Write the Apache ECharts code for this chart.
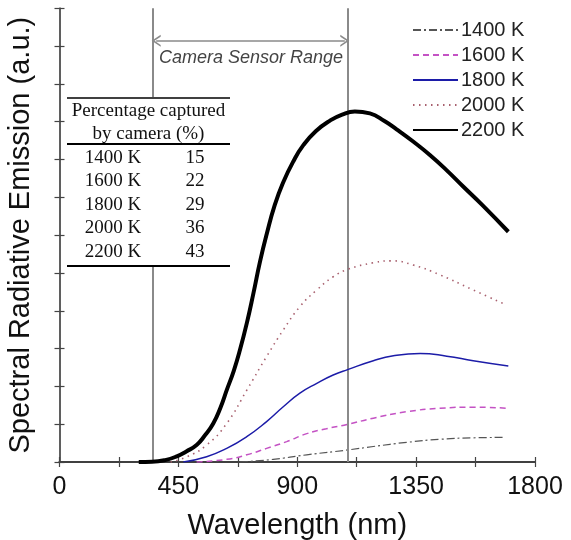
<!DOCTYPE html>
<html>
<head>
<meta charset="utf-8">
<script src="https://cdn.jsdelivr.net/npm/echarts@6/dist/echarts.min.js"></script>
<style>
html,body{margin:0;padding:0;background:#fff;}
#c{width:571px;height:540px;}
</style>
</head>
<body>
<div id="c"></div>
<script>
// ---- data ----
const xTicks = [0, 450, 900, 1350, 1800];
const sensorRange = [354, 1092];
const arrowLevel = 11.14;

const wl1400 = [683, 809, 936, 1093, 1188, 1314, 1440, 1566, 1680];
const em1400 = [0, 0.07, 0.19, 0.32, 0.41, 0.52, 0.60, 0.64, 0.65];

const wl1600 = [519, 633, 709, 784, 860, 936, 1010, 1093, 1188, 1314, 1440, 1566, 1699];
const em1600 = [0, 0.07, 0.19, 0.36, 0.54, 0.75, 0.88, 1.0, 1.16, 1.33, 1.42, 1.45, 1.42];

const wl1800 = [469, 557, 633, 709, 784, 847, 910, 974, 1036, 1093, 1188, 1264, 1365, 1466, 1566, 1699];
const em1800 = [0, 0.14, 0.36, 0.67, 1.07, 1.46, 1.82, 2.08, 2.30, 2.45, 2.68, 2.81, 2.87, 2.80, 2.68, 2.54];

const wl2000 = [420, 480, 557, 633, 709, 784, 847, 910, 974, 1036, 1093, 1188, 1257, 1339, 1440, 1566, 1693];
const em2000 = [0, 0.13, 0.45, 1.02, 1.90, 2.79, 3.49, 4.11, 4.55, 4.90, 5.10, 5.27, 5.32, 5.21, 4.95, 4.55, 4.15];

const wl2200 = [300, 350, 400, 444, 480, 519, 550, 582, 610, 633, 660, 683, 710, 734, 759, 784, 815, 847, 885, 923, 970, 1024, 1070, 1118, 1175, 1230, 1276, 1340, 1402, 1465, 1529, 1600, 1699];
const em2200 = [0, 0.005, 0.05, 0.15, 0.28, 0.45, 0.7, 1.02, 1.45, 1.9, 2.42, 2.96, 3.7, 4.46, 5.3, 6.02, 6.8, 7.4, 7.95, 8.38, 8.75, 9.03, 9.19, 9.27, 9.22, 9.02, 8.8, 8.47, 8.12, 7.72, 7.28, 6.8, 6.09];

const tableHeader = ['Percentage captured', 'by camera (%)'];
const tableTemps = ['1400 K', '1600 K', '1800 K', '2000 K', '2200 K'];
const tablePct = ['15', '22', '29', '36', '43'];

// ---- build ----
function pairs(w, v) { return w.map((x, i) => [x, v[i]]); }

const chart = echarts.init(document.getElementById('c'), null, {renderer: 'canvas'});

const axisCommon = {
  axisTick: {show: true, inside: true, length: 5, lineStyle: {color: '#444', width: 1.2}},
  splitLine: {show: false}
};

function line(name, w, v, color, width, type, z) {
  return {
    name, type: 'line', data: pairs(w, v), symbol: 'none', showSymbol: false,
    smooth: 0.5, z: z,
    lineStyle: {color, width, type}, itemStyle: {color}
  };
}

const series = [
  line('1400 K', wl1400, em1400, '#555555', 1.2, [8, 3, 2, 3], 3),
  line('1600 K', wl1600, em1600, '#c452c4', 1.5, [6, 4], 4),
  line('1800 K', wl1800, em1800, '#1c1ca8', 1.5, 'solid', 5),
  line('2000 K', wl2000, em2000, '#a8606e', 1.6, [1.5, 4.5], 6),
  line('2200 K', wl2200, em2200, '#000000', 4, 'solid', 7)
];

const chevron = 'path://M0,10 L5,0 L10,10 L8.4,10 L5,3.2 L1.6,10 Z';

series.push({
  type: 'line', data: [], silent: true, z: 1,
  markLine: {
    silent: true, symbol: 'none', animation: false,
    label: {show: false},
    lineStyle: {color: '#8a8a8a', width: 2, type: 'solid'},
    data: [{xAxis: sensorRange[0]}, {xAxis: sensorRange[1]}]
  }
});
series.push({
  type: 'line', data: [], silent: true, z: 1,
  markLine: {
    silent: true, animation: false,
    symbol: [chevron, chevron],
    symbolSize: [12, 9],
    lineStyle: {color: '#8a8a8a', width: 1.5, type: 'solid'},
    label: {show: false},
    data: [[{coord: [sensorRange[0] + 12, arrowLevel]}, {coord: [sensorRange[1] - 12, arrowLevel]}]]
  }
});

const T = 'Liberation Serif, Times New Roman, serif';
const graphics = [];
const tx0 = 67, tx1 = 230;
graphics.push({type: 'rect', z: 100, shape: {x: tx0, y: 97, width: tx1 - tx0, height: 170}, style: {fill: '#fff'}});
graphics.push({type: 'line', z: 101, shape: {x1: tx0, y1: 98, x2: tx1, y2: 98}, style: {stroke: '#000', lineWidth: 1.5}});
graphics.push({type: 'line', z: 101, shape: {x1: tx0, y1: 144, x2: tx1, y2: 144}, style: {stroke: '#000', lineWidth: 2}});
graphics.push({type: 'line', z: 101, shape: {x1: tx0, y1: 266, x2: tx1, y2: 266}, style: {stroke: '#000', lineWidth: 2}});
tableHeader.forEach((t, i) => {
  graphics.push({type: 'text', z: 101, style: {text: t, x: 148.5, y: 111 + i * 23, textAlign: 'center', textVerticalAlign: 'middle', font: '19px ' + T, fill: '#111'}});
});
tableTemps.forEach((t, i) => {
  graphics.push({type: 'text', z: 101, style: {text: t, x: 113, y: 158 + i * 23.5, textAlign: 'center', textVerticalAlign: 'middle', font: '19px ' + T, fill: '#111'}});
  graphics.push({type: 'text', z: 101, style: {text: tablePct[i], x: 195, y: 158 + i * 23.5, textAlign: 'center', textVerticalAlign: 'middle', font: '19px ' + T, fill: '#111'}});
});
graphics.push({type: 'text', z: 101, style: {text: 'Camera Sensor Range', x: 251, y: 58, textAlign: 'center', textVerticalAlign: 'middle', font: 'italic 18px Liberation Sans, Arial, sans-serif', fill: '#444'}});

const option = {
  animation: false,
  backgroundColor: '#fff',
  textStyle: {fontFamily: 'Liberation Sans, Arial, sans-serif'},
  grid: {left: 59.5, right: 36, top: 8.3, bottom: 78, containLabel: false, outerBoundsMode: 'none'},
  legend: {
    orient: 'vertical', left: 407, top: 15,
    itemWidth: 45, itemHeight: 12, itemGap: 5,
    itemStyle: {color: 'transparent', borderWidth: 0, opacity: 0},
    textStyle: {fontSize: 20, color: '#222', padding: [0, 0, 0, -2]},
    data: ['1400 K', '1600 K', '1800 K', '2000 K', '2200 K']
  },
  xAxis: [{
    type: 'value', min: 0, max: 1800, interval: 225, position: 'bottom',
    name: 'Wavelength (nm)', nameLocation: 'middle', nameGap: 49,
    nameTextStyle: {fontSize: 29, color: '#111'},
    axisLine: {show: true, lineStyle: {color: '#000', width: 2}},
    axisLabel: {fontSize: 25, color: '#111', margin: 13,
      formatter: v => (xTicks.indexOf(v) >= 0 ? String(v) : '')},
    ...axisCommon
  }, {
    type: 'value', min: 0, max: 1800, interval: 225, position: 'top',
    axisLine: {show: true, lineStyle: {color: '#555', width: 1.5}},
    axisLabel: {show: false},
    ...axisCommon
  }],
  yAxis: [{
    type: 'value', min: 0, max: 12, interval: 1, position: 'left',
    name: 'Spectral Radiative Emission (a.u.)', nameLocation: 'middle', nameGap: 24, nameRotate: 90,
    nameTextStyle: {fontSize: 29, color: '#111'},
    axisLine: {show: true, lineStyle: {color: '#555', width: 1.5}},
    axisLabel: {show: false},
    ...axisCommon
  }, {
    type: 'value', min: 0, max: 12, interval: 1, position: 'right',
    axisLine: {show: true, lineStyle: {color: '#555', width: 1.5}},
    axisLabel: {show: false},
    ...axisCommon
  }],
  series: series,
  graphic: graphics
};
chart.setOption(option);
</script>
</body>
</html>
